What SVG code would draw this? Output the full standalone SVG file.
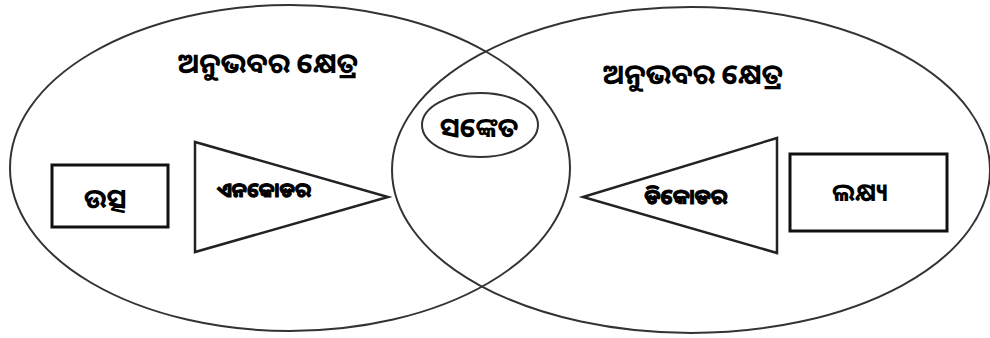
<svg xmlns="http://www.w3.org/2000/svg" width="990" height="338" viewBox="0 0 990 338">
<style>
.field{fill:none;stroke:#333;stroke-width:2}
.box{fill:none;stroke:#111;stroke-width:3}
.tri{fill:none;stroke:#222;stroke-width:2.5;stroke-linejoin:miter}
text{font-family:"Noto Sans Oriya","Noto Sans","DejaVu Sans",sans-serif;fill:#000;text-anchor:middle;font-weight:bold}
.h{font-size:28px}
.heavy{stroke:#000;stroke-width:1;stroke-linejoin:round}
</style>
<rect width="990" height="338" fill="#fff"/>
<g id="field-left">
<ellipse class="field" cx="290" cy="168" rx="280" ry="163"/>
<text class="h" x="268" y="73">ଅନୁଭବର କ୍ଷେତ୍ର</text>
</g>
<g id="field-right">
<ellipse class="field" cx="691" cy="170" rx="299" ry="163"/>
<text class="h" x="693" y="84">ଅନୁଭବର କ୍ଷେତ୍ର</text>
</g>
<g id="signal">
<ellipse class="field" cx="480" cy="125" rx="58" ry="32" stroke-width="2.5"/>
<text x="479" y="137" font-size="27">ସଙ୍କେତ</text>
</g>
<g id="source">
<rect class="box" x="52" y="165" width="116" height="62"/>
<text x="105" y="208" font-size="27">ଉତ୍ସ</text>
</g>
<g id="encoder">
<polygon class="tri" points="195,142 195,252 388,197"/>
<text class="heavy" x="264" y="197" font-size="20">ଏନକୋଡର</text>
</g>
<g id="decoder">
<polygon class="tri" points="777,138 777,253 583,197"/>
<text class="heavy" x="686" y="204" font-size="21">ଡିକୋଡର</text>
</g>
<g id="destination">
<rect class="box" x="790" y="154" width="157" height="77"/>
<text x="860" y="201" font-size="25">ଲକ୍ଷ୍ୟ</text>
</g>
<g id="connectors"></g>
</svg>
